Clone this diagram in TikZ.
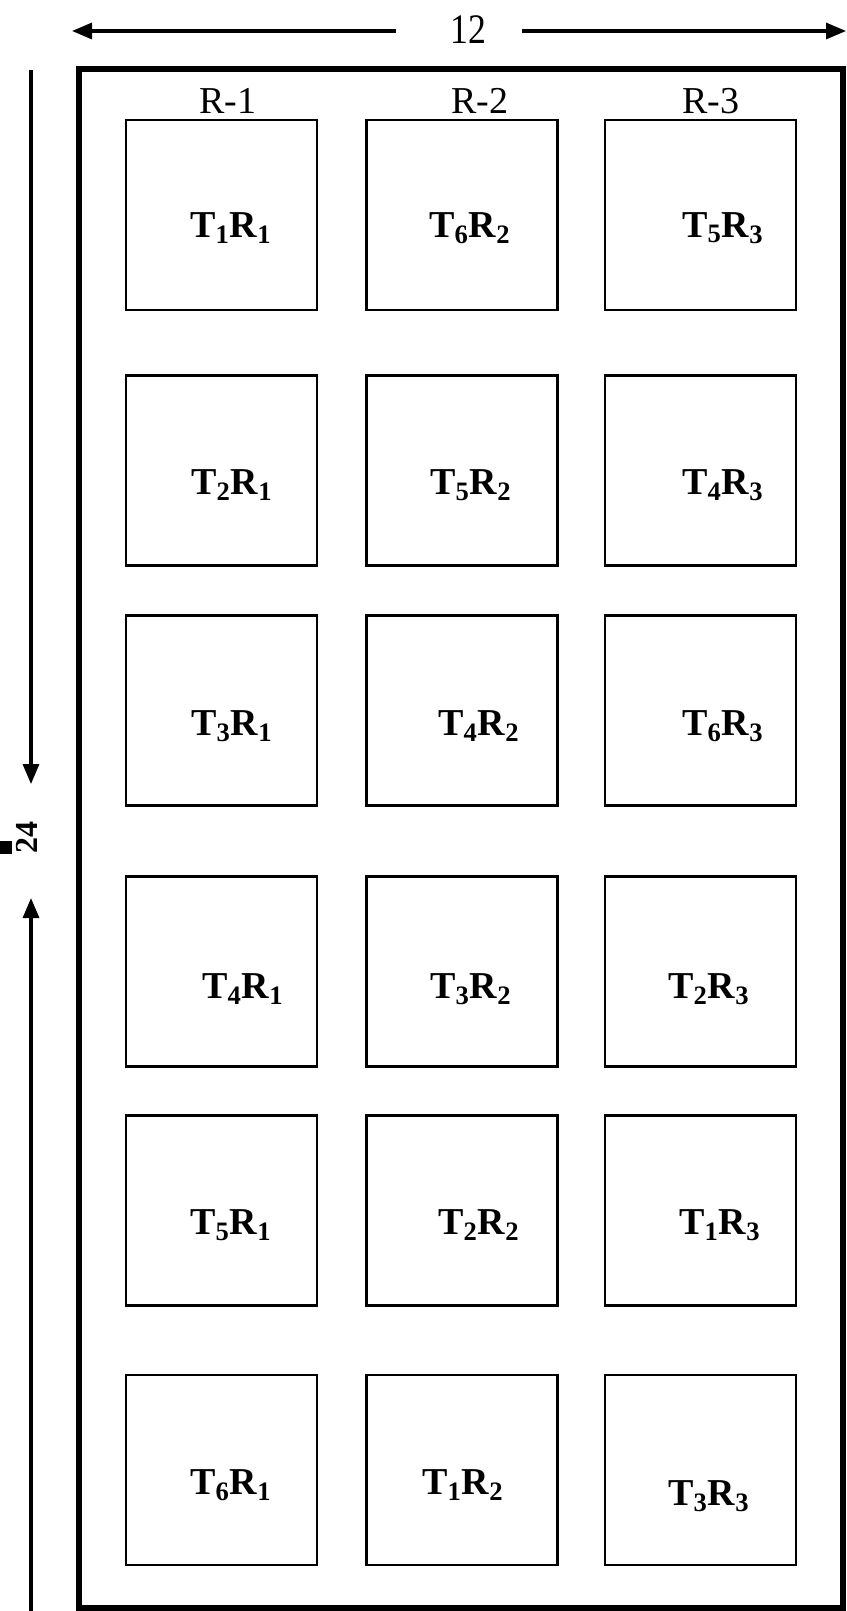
\documentclass[tikz,border=0pt]{standalone}
\usepackage{fontspec}
\setmainfont{Liberation Serif}
\usetikzlibrary{arrows.meta,positioning}

\newcommand{\trlab}[2]{T\textsubscript{#1}R\textsubscript{#2}}

\tikzset{
  plot/.style={draw,line width=1.4pt,minimum width=95.5pt,minimum height=95pt,inner sep=0pt},
  plotlab/.style={font=\fontsize{19}{21}\selectfont\bfseries},
  rowhead/.style={font=\fontsize{19}{21}\selectfont},
  dimlab/.style={font=\fontsize{21}{23}\selectfont,inner sep=1pt}
}

\begin{document}
\begin{tikzpicture}[x=0.5pt,y=-0.5pt,>={Triangle[length=10pt,width=8pt]}]
\useasboundingbox (0,0) rectangle (846,1611);

% field border
\draw[line width=2.6pt] (79,69) rectangle (843,1608);

% width 12
\coordinate (wl) at (72,31);
\coordinate (wr) at (846,31);
\coordinate (wa) at (396,31);
\coordinate (wb) at (522,31);
\node[dimlab,xscale=0.85] (w) at (468,30) {12};
\draw[->,line width=1.6pt] (wa) -- (wl);
\draw[->,line width=1.6pt] (wb) -- (wr);

% length 24
\coordinate (lt) at (31,70);
\coordinate (lb) at (31,1611);
\node[font=\fontsize{16}{18}\selectfont\bfseries,rotate=90,inner sep=0pt] (l) at (27,837) {24};
\coordinate (la) at (31,784);
\coordinate (lc) at (31,898);
\draw[->,line width=1.6pt] (lt) -- (la);
\draw[->,line width=1.6pt] (lb) -- (lc);
\fill (0,841) rectangle (12,854);

% replications
\node[rowhead] (r1) at (228,101) {R-1};
\node[rowhead] (r2) at (480,101) {R-2};
\node[rowhead] (r3) at (711,101) {R-3};

% plots
\foreach \c/\x in {1/221.5,2/462,3/700.5}
  \foreach \r/\y in {1/215,2/470.5,3/710.5,4/971.5,5/1210.5,6/1470}
    \node[plot] (b\r\c) at (\x,\y) {};

% treatments
\foreach \n/\x/\y/\t/\rr in {
  11/231/228/1/1, 12/470/228/6/2, 13/723/228/5/3,
  21/232/485/2/1, 22/471/485/5/2, 23/723/485/4/3,
  31/232/726/3/1, 32/479/726/4/2, 33/723/726/6/3,
  41/243/989/4/1, 42/471/989/3/2, 43/709/989/2/3,
  51/231/1225/5/1, 52/479/1225/2/2, 53/720/1225/1/3,
  61/231/1485/6/1, 62/463/1485/1/2, 63/709/1496/3/3}
  \node[plotlab] (t\n) at (\x,\y) {\trlab{\t}{\rr}};
\end{tikzpicture}
\end{document}
